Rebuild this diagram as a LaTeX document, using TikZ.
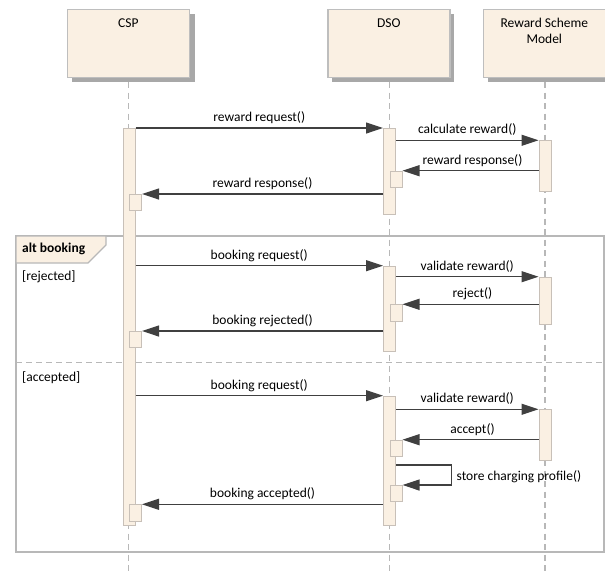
\documentclass[tikz,border=0pt]{standalone}
\usepackage{fontspec}
\setmainfont{Carlito}
\usetikzlibrary{arrows.meta}
\definecolor{boxfill}{HTML}{FAF0E3}
\definecolor{boxborder}{HTML}{BEBEBE}
\definecolor{shadowcol}{HTML}{A8A8A8}
\definecolor{barborder}{HTML}{C8C0B8}
\definecolor{lifecol}{HTML}{B8B8B8}
\definecolor{framecol}{HTML}{B8B8B8}
\definecolor{arrowcol}{HTML}{404040}
\begin{document}
\begin{tikzpicture}[x=1pt,y=-1pt,
  font=\fontsize{13.5}{16.6}\selectfont,
  actorbox/.style={draw=boxborder, fill=boxfill, line width=1.2pt, anchor=north west,
    minimum width=122pt, minimum height=68pt, inner sep=0pt},
  actorshadow/.style={fill=shadowcol, draw=none},
  lifeline/.style={draw=lifecol, line width=1.1pt, dash pattern=on 6pt off 4.5pt},
  actbar/.style={draw=barborder, fill=boxfill, line width=1pt, anchor=north west,
    minimum width=12pt, inner sep=0pt},
  msg/.style={draw=arrowcol, line width=1.2pt,
    -{Triangle[length=17pt, width=11pt, fill=arrowcol]}},
  lbl/.style={anchor=base, yshift=6.5pt, inner sep=0pt, text=black},
  frameline/.style={draw=framecol, line width=1.6pt},
  guard/.style={anchor=west, inner sep=0pt}
]
\useasboundingbox (0,0) rectangle (605,573);

% combined fragment frame
\draw[frameline] (16,236) rectangle (604,552);
\draw[draw=framecol, line width=1.1pt, dash pattern=on 6pt off 4pt] (16,362.3) -- (604,362.3);
\draw[draw=framecol, line width=1.2pt, fill=boxfill] (16,236) -- (106,236) -- (106,245) -- (88,263) -- (16,263) -- cycle;
\node[guard, font=\fontsize{13.5}{16.6}\selectfont\bfseries] (altlbl) at (22,249) {alt booking};
\node[guard] (g1) at (22,277) {[rejected]};
\node[guard] (g2) at (22,378) {[accepted]};

% actor shadows and boxes
\fill[actorshadow] (71.7,14) rectangle (195,81.7);
\fill[actorshadow] (332.3,14) rectangle (454.3,81.7);
\fill[actorshadow] (487.7,14) rectangle (609.7,81.7);

% lifelines
\coordinate (cspend) at (128.5,573);
\coordinate (dsoend) at (389.3,573);
\coordinate (rsmend) at (545,573);
\draw[lifeline] (128.5,82) -- (cspend);
\draw[lifeline] (389.3,82) -- (dsoend);
\draw[lifeline] (545,82) -- (rsmend);

\node[actorbox] (csp) at (66.7,9) {};
\node[actorbox] (dso) at (327.3,9) {};
\node[actorbox] (rsm) at (482.7,9) {};
\node (csptxt) at ([yshift=-13.7pt]csp.north) {CSP};
\node (dsotxt) at ([yshift=-13.7pt]dso.north) {DSO};
\node[align=center, inner sep=0pt] (rsmtxt) at ([yshift=-22pt]rsm.north) {Reward Scheme\\Model};

% activation bars
\node[actbar, minimum height=397pt] (c1) at (122.5,128) {};
\node[actbar, minimum height=86pt] (d1) at (383,128) {};
\node[actbar, minimum height=85.3pt] (d2) at (383,265.7) {};
\node[actbar, minimum height=129.3pt] (d3) at (383,395.7) {};
\node[actbar, minimum height=50.4pt] (r1) at (538.5,140.3) {};
\node[actbar, minimum height=47.6pt] (r2) at (538.5,276.7) {};
\node[actbar, minimum height=50.7pt] (r3) at (538.5,409.3) {};
\node[actbar, minimum height=16pt] (cs1) at (129,194) {};
\node[actbar, minimum height=16.3pt] (cs2) at (129,331) {};
\node[actbar, minimum height=16.7pt] (cs3) at (129,504.3) {};
\node[actbar, minimum height=16pt] (ds1) at (389.5,170.7) {};
\node[actbar, minimum height=16.4pt] (ds2) at (389.5,304.3) {};
\node[actbar, minimum height=16.3pt] (ds3) at (389.5,439.7) {};
\node[actbar, minimum height=15.7pt] (ds4) at (389.5,485) {};

% messages
\draw[msg] (c1.east |- d1.north) -- node[lbl] {reward request()} (d1.north west);
\draw[msg] (d1.east |- r1.north) -- node[lbl] {calculate reward()} (r1.north west);
\draw[msg] (r1.west |- ds1.north) -- node[lbl, xshift=2pt] {reward response()} (ds1.north east);
\draw[msg] (d1.west |- cs1.north) -- node[lbl] {reward response()} (cs1.north east);

\draw[msg] (c1.east |- d2.north) -- node[lbl] {booking request()} (d2.north west);
\draw[msg] (d2.east |- r2.north) -- node[lbl] {validate reward()} (r2.north west);
\draw[msg] (r2.west |- ds2.north) -- node[lbl, xshift=2pt] {reject()} (ds2.north east);
\draw[msg] (d2.west |- cs2.north) -- node[lbl] {booking rejected()} (cs2.north east);

\draw[msg] (c1.east |- d3.north) -- node[lbl] {booking request()} (d3.north west);
\draw[msg] (d3.east |- r3.north) -- node[lbl] {validate reward()} (r3.north west);
\draw[msg] (r3.west |- ds3.north) -- node[lbl, xshift=2pt] {accept()} (ds3.north east);
\coordinate (loopR) at (451.7,465);
\draw[msg] (d3.east |- loopR) -- (loopR) -- (loopR |- ds4.north) -- (ds4.north east);
\node[anchor=base west, inner sep=0pt] (looplbl) at (456.5,480) {store charging profile()};
\draw[msg] (d3.west |- cs3.north) -- node[lbl] {booking accepted()} (cs3.north east);
\end{tikzpicture}
\end{document}
